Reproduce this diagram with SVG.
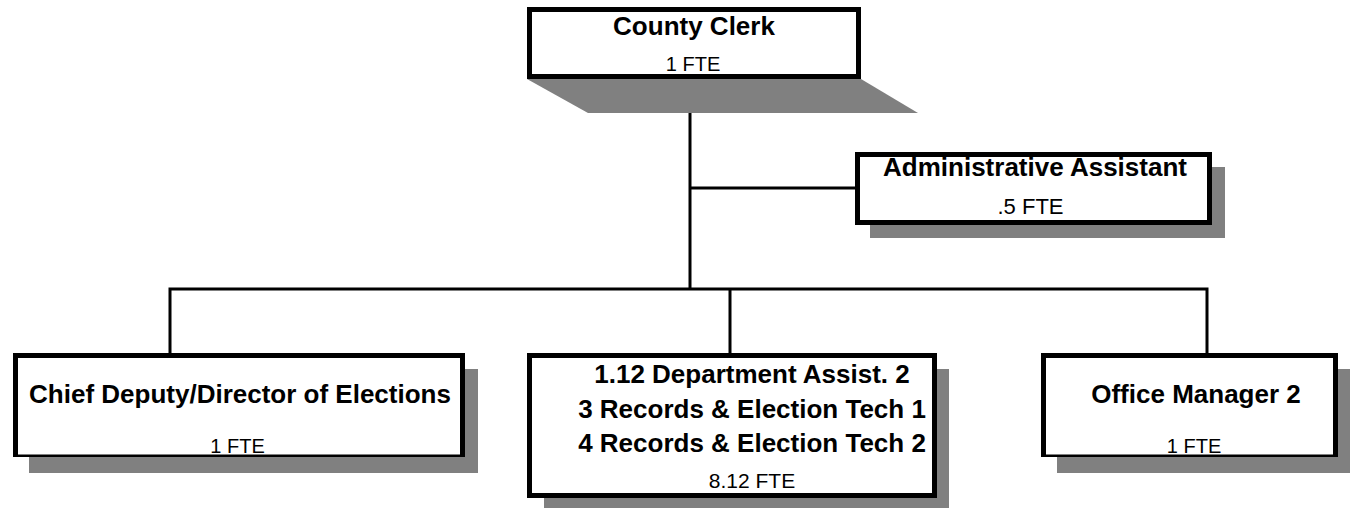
<svg xmlns="http://www.w3.org/2000/svg" width="1350" height="508" viewBox="0 0 1350 508">
<style>
.sh{fill:#808080;stroke:none}
.bx{fill:#fff;stroke:#000;stroke-width:5}
.thin{stroke:#000;stroke-width:2.5;fill:none}
.thick{stroke:#000;stroke-width:5;fill:none}
.t{font-family:"Liberation Sans",Arial,sans-serif;font-weight:bold;font-size:26px;text-anchor:middle;fill:#000}
.s{font-family:"Liberation Sans",Arial,sans-serif;font-size:20px;text-anchor:middle;fill:#000}
.cn{stroke:#000;stroke-width:3;fill:none}
</style>
<rect width="1350" height="508" fill="#fff"/>
<g id="connectors">
<line class="cn" x1="690" y1="79" x2="690" y2="289"/>
<line class="cn" x1="690" y1="188" x2="856" y2="188"/>
<polyline class="cn" points="170,354 170,289 1207,289 1207,354"/>
<line class="cn" x1="730" y1="289" x2="730" y2="354"/>
</g>
<g id="county-clerk">
<polygon class="sh" points="527,79 861,79 918,113 588,113"/>
<rect class="bx" x="529.5" y="9.5" width="329" height="67"/>
<text class="t" x="694" y="35">County Clerk</text>
<text class="s" x="693" y="71">1 FTE</text>
</g>
<g id="administrative-assistant">
<rect class="sh" x="870" y="167" width="355" height="71"/>
<rect class="bx" x="857.5" y="154.5" width="352" height="68"/>
<text class="t" x="1035" y="176">Administrative Assistant</text>
<text class="s" x="1030.5" y="214" style="font-size:22px">.5 FTE</text>
</g>
<g id="chief-deputy">
<rect class="sh" x="29" y="369" width="449" height="104"/>
<rect x="15.5" y="355.5" width="447" height="100" fill="#fff"/>
<line class="thin" x1="13" y1="455.75" x2="465" y2="455.75"/>
<path class="thick" d="M15.5,457 V355.5 H462.5 V457"/>
<text class="t" x="240" y="403">Chief Deputy/Director of Elections</text>
<text class="s" x="237.5" y="453">1 FTE</text>
</g>
<g id="department-staff">
<rect class="sh" x="544" y="369" width="405" height="145"/>
<rect class="bx" x="529.5" y="355.5" width="405" height="140"/>
<text class="t" x="752" y="383">1.12 Department Assist. 2</text>
<text class="t" x="752" y="418">3 Records &amp; Election Tech 1</text>
<text class="t" x="752" y="452">4 Records &amp; Election Tech 2</text>
<text class="s" x="752" y="488" style="font-size:21px">8.12 FTE</text>
</g>
<g id="office-manager">
<rect class="sh" x="1057" y="369" width="297" height="104"/>
<rect x="1043.5" y="355.5" width="292" height="100" fill="#fff"/>
<line class="thin" x1="1041" y1="455.75" x2="1338" y2="455.75"/>
<path class="thick" d="M1043.5,457 V355.5 H1335.5 V457"/>
<text class="t" x="1196" y="403">Office Manager 2</text>
<text class="s" x="1194" y="453">1 FTE</text>
</g>
</svg>
